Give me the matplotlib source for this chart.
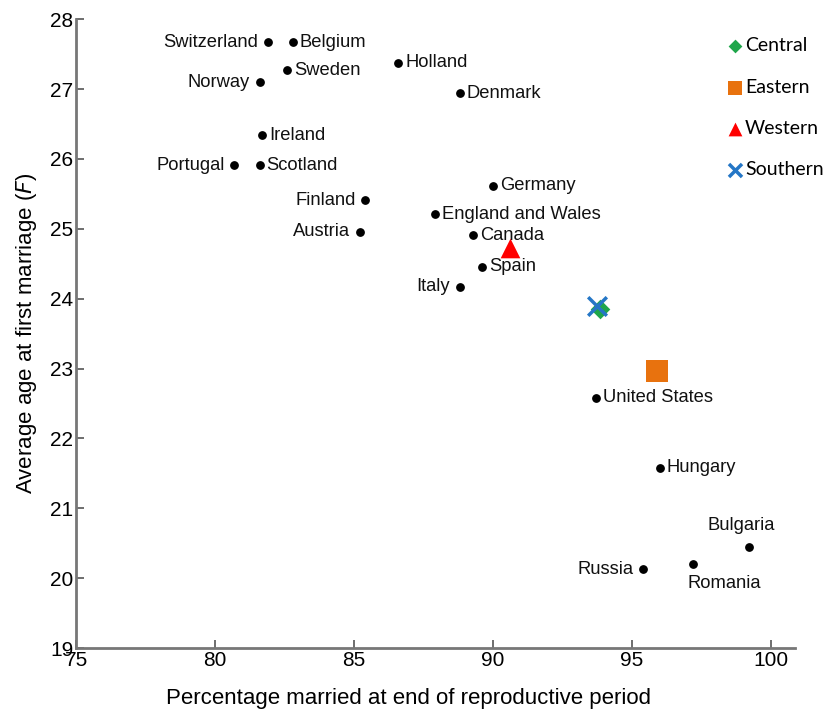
import matplotlib.pyplot as plt

# country data: percentage married, average age at first marriage (F)
countries = ["Switzerland", "Belgium", "Sweden", "Norway", "Holland", "Denmark",
             "Ireland", "Portugal", "Scotland", "Finland", "Austria", "Germany",
             "England and Wales", "Canada", "Spain", "Italy", "United States",
             "Hungary", "Bulgaria", "Russia", "Romania"]
pct_married = [81.9, 82.8, 82.6, 81.6, 86.6, 88.8,
               81.7, 80.7, 81.6, 85.4, 85.2, 90.0,
               87.9, 89.3, 89.6, 88.8, 93.7,
               96.0, 99.2, 95.4, 97.2]
age_first = [27.67, 27.67, 27.27, 27.1, 27.38, 26.94,
             26.34, 25.91, 25.91, 25.41, 24.96, 25.62,
             25.21, 24.91, 24.46, 24.17, 22.58,
             21.58, 20.44, 20.13, 20.2]
# which side the name goes
label_side = ["left", "right", "right", "left", "right", "right",
              "right", "left", "right", "left", "left", "right",
              "right", "right", "right", "left", "right",
              "right", "above", "left", "below"]

# regional averages
regions = ["Central", "Eastern", "Western", "Southern"]
region_x = [93.85, 95.9, 90.6, 93.75]
region_y = [23.85, 22.97, 24.73, 23.9]
region_marker = ["D", "s", "^", "x"]
region_color = ["#1fa64a", "#e8720e", "#ff0000", "#2476c6"]
region_size = [100, 230, 200, 180]

plt.rcParams["font.family"] = ["Liberation Sans", "DejaVu Sans"]

fig = plt.figure(figsize=(8.27, 7.13), dpi=100)
ax = fig.add_axes([0.092, 0.091, 0.869, 0.882])

ax.scatter(pct_married, age_first, s=28, color="black", zorder=3)

offsets = {"left": (-7, 0, "right", "center"),
           "right": (5, 0, "left", "center"),
           "above": (-5, 10, "center", "bottom"),
           "below": (-4, -8, "left", "top")}
for name, x, y, side in zip(countries, pct_married, age_first, label_side):
    dx, dy, ha, va = offsets[side]
    ax.annotate(name, (x, y), xytext=(dx, dy), textcoords="offset points",
                ha=ha, va=va, fontsize=13.2, color="#111111")

for name, x, y, m, c, s in zip(regions, region_x, region_y, region_marker,
                                region_color, region_size):
    kw = dict(linewidths=2.5) if m == "x" else dict(linewidths=0)
    ax.scatter([x], [y], marker=m, s=s, color=c, label=name, zorder=4, **kw)

ax.set_xlim(75, 100.86)
ax.set_ylim(19, 28)
ax.set_xticks([75, 80, 85, 90, 95, 100])
ax.set_yticks(range(19, 29))

for side in ["top", "right"]:
    ax.spines[side].set_visible(False)
for side in ["left", "bottom"]:
    ax.spines[side].set_linewidth(2)
    ax.spines[side].set_color("#777777")

ax.tick_params(direction="in", length=6, width=1.2, color="#555555",
               labelsize=15, pad=2)

ax.set_xlabel("Percentage married at end of reproductive period", fontsize=16)
ax.xaxis.set_label_coords(0.462, -0.064)
ax.set_ylabel("Average age at first marriage ($F$)", fontsize=16, labelpad=8)

leg = fig.legend(loc="upper left", bbox_to_anchor=(0.856, 0.972), frameon=False,
                 prop={"family": "Lato", "size": 14}, labelspacing=1.25,
                 handletextpad=0.0, handlelength=1.0, markerscale=0.7)

fig.savefig("out.png", dpi=100)
